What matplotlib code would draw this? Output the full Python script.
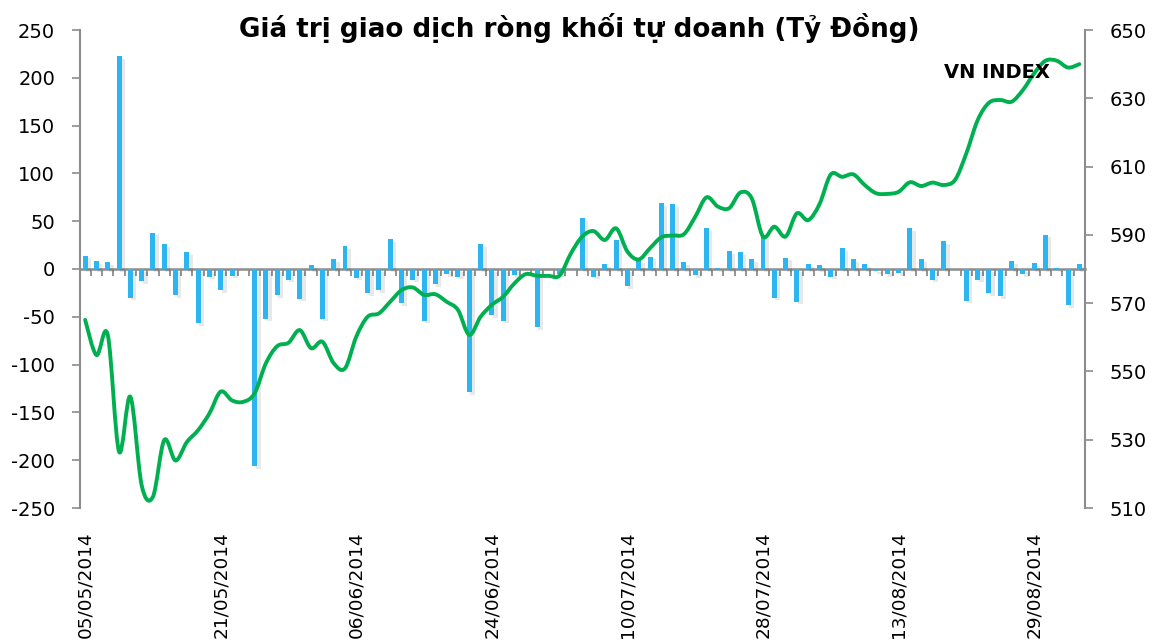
import numpy as np
import matplotlib
matplotlib.use('Agg')
import matplotlib.pyplot as plt
from matplotlib.path import Path
from matplotlib.patches import PathPatch
import matplotlib.patheffects as pe

# ---------------- data ----------------
title = "Giá trị giao dịch ròng khối tự doanh (Tỷ Đồng)"
series_label = "VN INDEX"
date_labels = ['05/05/2014', '21/05/2014', '06/06/2014', '24/06/2014',
               '10/07/2014', '28/07/2014', '13/08/2014', '29/08/2014']
label_step = 12  # one date label every 12 trading sessions

net_value = [14, 8, 7, 223, -30, -13, 38, 26, -27, 18,
             -57, -8, -22, -7, 0, -206, -52, -27, -11, -31,
             4, -52, 10, 24, -9, -25, -22, 31, -36, -11,
             -54, -16, -5, -8, -129, 26, -48, -54, -6, 0,
             -61, 0, -5, 0, 53, -8, 5, 30, -18, 9,
             13, 69, 68, 7, -6, 43, 1, 19, 18, 10,
             34, -30, 12, -34, 5, 4, -8, 22, 10, 5,
             -2, -5, -4, 43, 10, -11, 29, 0, -33, -11,
             -25, -28, 8, -5, 6, 36, 1, -38, 5]

vn_index = [565.1, 554.8, 560.7, 526.5, 542.6, 516.7, 513.3, 529.9, 523.9, 529.3,
            532.8, 537.7, 544.1, 541.5, 541.1, 543.6, 552.4, 557.4, 558.4, 562.1,
            556.8, 558.7, 552.4, 550.9, 560.2, 566.0, 567.0, 570.4, 573.8, 574.6,
            572.4, 572.6, 570.4, 568.0, 560.7, 566.0, 569.5, 571.9, 575.8, 578.5,
            578.0, 578.0, 578.1, 584.6, 589.5, 591.1, 588.5, 591.9, 585.1, 582.8,
            586.1, 589.3, 589.8, 590.2, 595.3, 601.0, 598.3, 597.8, 602.4, 600.7,
            589.5, 592.4, 589.5, 596.3, 594.3, 599.0, 607.7, 607.0, 607.7, 604.6,
            602.2, 602.0, 602.6, 605.4, 604.3, 605.3, 604.6, 606.1, 613.9, 623.6,
            628.7, 629.5, 629.0, 632.4, 637.3, 641.0, 641.0, 639.0, 640.0]

left_ticks = list(range(-250, 251, 50))
right_ticks = list(range(510, 651, 20))

# ---------------- style ----------------
BAR = '#2CB5EE'
GREEN = '#00B050'
GRAY = '#8C8C8C'

plt.rcParams['font.family'] = ['DejaVu Sans']
plt.rcParams['axes.unicode_minus'] = False

W, H = 1155, 644
fig = plt.figure(figsize=(W / 100, H / 100), dpi=100)
fig.patch.set_facecolor('white')

left_px, right_px, top_px, bottom_px = 79.5, 1085, 30, 508
ax = fig.add_axes([left_px / W, 1 - bottom_px / H,
                   (right_px - left_px) / W, (bottom_px - top_px) / H])

n = len(net_value)
x = np.arange(n)

bars = ax.bar(x, net_value, width=0.44, color=BAR, zorder=3)
for b in bars:
    b.set_path_effects([pe.SimplePatchShadow(offset=(2.5, -2), shadow_rgbFace='black', alpha=0.09),
                        pe.Normal()])

ax.set_xlim(-0.5, n - 0.5)
ax.set_ylim(left_ticks[0], left_ticks[-1])
ax.set_yticks(left_ticks)
ax.set_yticklabels([str(v) for v in left_ticks])

for s in ['top', 'right']:
    ax.spines[s].set_visible(False)
ax.spines['left'].set_color(GRAY)
ax.spines['left'].set_linewidth(1.5)
ax.spines['bottom'].set_position(('data', 0))
ax.spines['bottom'].set_color(GRAY)
ax.spines['bottom'].set_linewidth(1.8)
ax.spines['bottom'].set_zorder(2)

ax.set_xticks(np.arange(0.5, n - 1, 1.0))
ax.tick_params(axis='x', length=4.8, width=1.3, color=GRAY, labelbottom=False, direction='out')
ax.tick_params(axis='y', length=5.5, width=1.2, color=GRAY, labelsize=14, pad=12, labelcolor='black')

sec = ax.secondary_xaxis(0)
sec.set_xticks(x[::label_step], labels=date_labels)
sec.tick_params(axis='x', length=0, pad=17, labelsize=13.3, labelrotation=90)
sec.spines['bottom'].set_visible(False)

# ---------------- VN index line (smoothed Bezier through the points) ----------------
ax2 = ax.twinx()
ax2.set_ylim(right_ticks[0], right_ticks[-1])
ax2.set_yticks(right_ticks)
ax2.set_yticklabels([str(v) for v in right_ticks])
for s in ['top', 'left', 'bottom']:
    ax2.spines[s].set_visible(False)
ax2.spines['right'].set_color(GRAY)
ax2.spines['right'].set_linewidth(1.5)
ax2.tick_params(axis='y', length=5.5, width=1.2, color=GRAY, labelsize=14, pad=12)

pts = np.column_stack([x, vn_index]).astype(float)
ext = np.vstack([pts[0], pts, pts[-1]])
verts = [tuple(pts[0])]
codes = [Path.MOVETO]
for i in range(n - 1):
    p0, p1, p2, p3 = ext[i], ext[i + 1], ext[i + 2], ext[i + 3]
    c1 = p1 + (p2 - p0) / 6.0
    c2 = p2 - (p3 - p1) / 6.0
    verts += [tuple(c1), tuple(c2), tuple(p2)]
    codes += [Path.CURVE4] * 3
line = PathPatch(Path(verts, codes), facecolor='none', edgecolor=GREEN, lw=2.8,
                 capstyle='round', joinstyle='round', transform=ax2.transData, zorder=5)
ax2.add_patch(line)

ax2.text(0.9125, 0.912, series_label, transform=ax2.transAxes, ha='center', va='center',
         fontsize=14, fontweight='bold', color='black', zorder=6)

# ---------------- title ----------------
t = fig.text(579 / W, 1 - 28 / H, title, ha='center', va='center',
             fontsize=17, fontweight='bold', color='black')
fig.canvas.draw()
w = t.get_window_extent().width
t.set_fontsize(17 * 678 / w)

fig.savefig('out.png', dpi=100, facecolor='white')
